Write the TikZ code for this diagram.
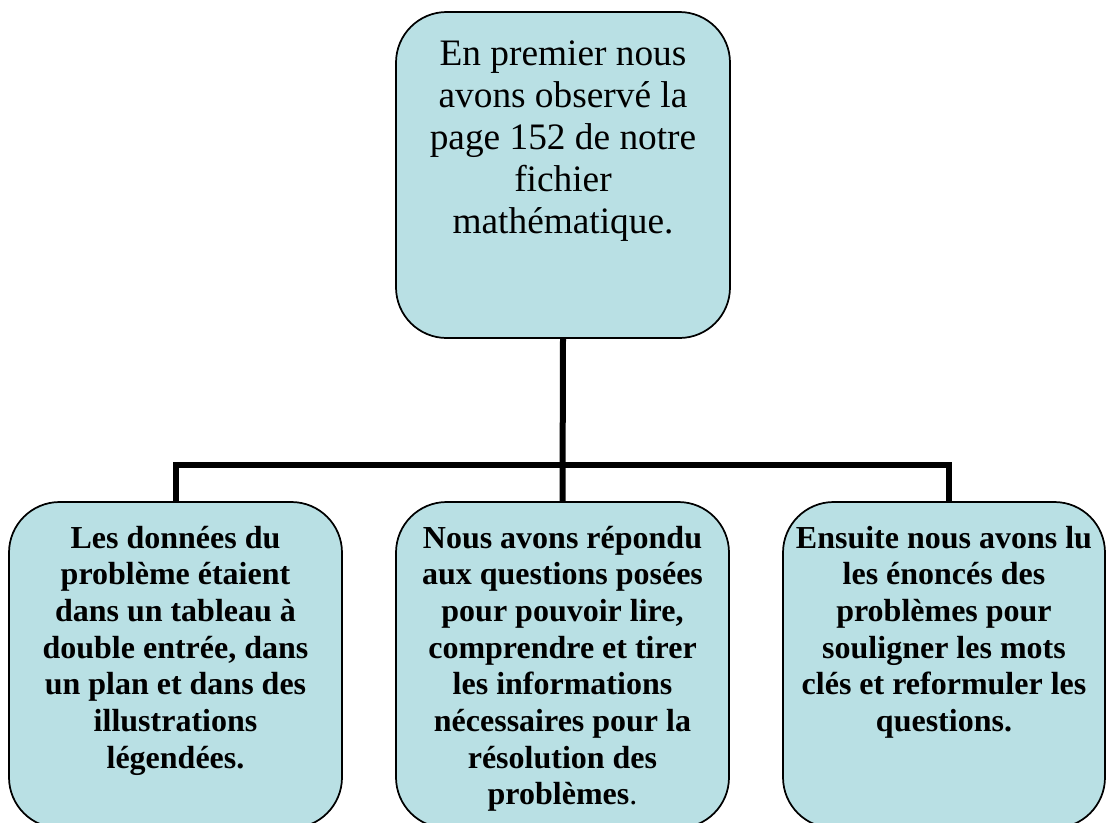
\documentclass[tikz,border=0pt]{standalone}
\usepackage{fontspec}
\setmainfont{Liberation Serif}

\definecolor{boxfill}{RGB}{185,224,228}
% width, height, first baseline, text
\newcommand{\boxtext}[4]{\parbox[c][#2][t]{#1}{\centering\rule{0pt}{#3}#4}}

\begin{document}
\begin{tikzpicture}[x=0.75pt,y=-0.75pt,
    box/.style={draw=black,line width=1.3pt,fill=boxfill,rounded corners=38pt,inner sep=0pt},
    conn/.style={line width=4.5pt}]
      \clip (0,0) rectangle (1106,822);
      \fill[white] (0,0) rectangle (1106,822);
      % top box
      \node[box] (top) at (563,175) {\fontsize{28pt}{31.5pt}\selectfont
        \boxtext{250.5pt}{244.5pt}{39.75pt}{En premier nous\\avons observé la\\page 152 de notre\\fichier\\mathématique.}};
      % bottom row
      \node[box] (left) at (175.5,665) {\fontsize{24pt}{27.5pt}\selectfont\bfseries
        \boxtext{249.75pt}{244.5pt}{34.5pt}{Les données du\\problème étaient\\dans un tableau à\\double entrée, dans\\un plan et dans des\\illustrations\\légendées.}};
      \node[box] (mid) at (562.5,665) {\fontsize{24pt}{27.5pt}\selectfont
        \boxtext{249.75pt}{244.5pt}{34.5pt}{\bfseries Nous avons répondu\\aux questions posées\\pour pouvoir lire,\\comprendre et tirer\\les informations\\nécessaires pour la\\résolution des\\problèmes\mdseries.}};
      \node[box] (right) at (944,665) {\fontsize{24pt}{27.5pt}\selectfont\bfseries
        \boxtext{241.5pt}{244.5pt}{34.5pt}{Ensuite nous avons lu\\les énoncés des\\problèmes pour\\souligner les mots\\clés et reformuler les\\questions.}};
      % connectors
      \coordinate (bus) at (563,465);
      \draw[conn] (top.south) -- (mid.north);
      \draw[conn] (left.north) |- (bus) -| ([xshift=4]right.north);
    \end{tikzpicture}
\end{document}
